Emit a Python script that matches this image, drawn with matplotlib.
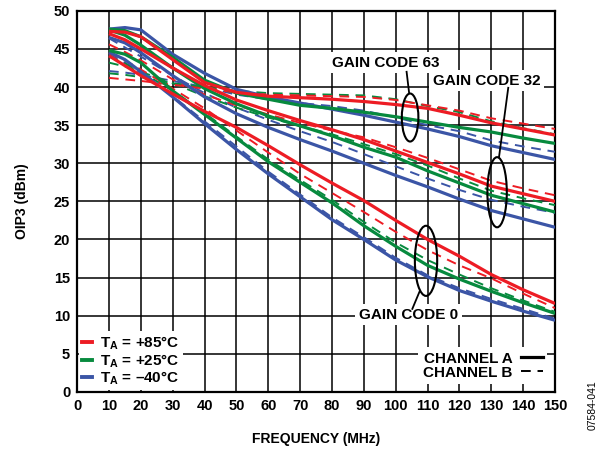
import numpy as np
import matplotlib
matplotlib.use('Agg')
import matplotlib.pyplot as plt
from matplotlib.patches import Ellipse
from matplotlib.lines import Line2D

plt.rcParams['font.family'] = ['Liberation Sans', 'DejaVu Sans']
plt.rcParams['font.weight'] = 'bold'
plt.rcParams['mathtext.fontset'] = 'custom'
plt.rcParams['mathtext.rm'] = 'Liberation Sans:bold'
plt.rcParams['mathtext.bf'] = 'Liberation Sans:bold'

# ----------------------------------------------------------------------
# --- data (MHz, dBm)

freq = [10, 15, 20, 30, 40, 50, 60, 70, 80, 90, 100, 110, 120, 130, 140, 150]

# gain code 63
g63_85_a = [47.3, 47.2, 46.6, 43.6, 40.6, 39.3, 38.8, 38.6, 38.4, 38.1, 37.7, 37.2, 36.3, 35.3, 34.5, 33.7]
g63_25_a = [47.6, 47.4, 46.6, 43.9, 40.9, 39.2, 38.4, 37.6, 37.2, 36.7, 36.1, 35.4, 34.7, 34.1, 33.3, 32.6]
g63_m40_a = [47.6, 47.8, 47.5, 44.3, 41.8, 39.7, 38.7, 37.9, 37.1, 36.3, 35.4, 34.5, 33.5, 32.3, 31.4, 30.5]
g63_85_b = [41.2, 41.0, 40.8, 40.3, 39.8, 39.3, 39.0, 38.9, 38.8, 38.7, 38.3, 37.6, 36.9, 35.9, 35.2, 34.5]
g63_25_b = [41.8, 41.6, 41.3, 40.5, 40.0, 39.5, 39.2, 39.1, 39.0, 38.9, 38.4, 37.5, 36.7, 35.5, 34.6, 33.8]
g63_m40_b = [42.1, 41.9, 41.6, 40.8, 40.0, 39.0, 38.4, 37.9, 37.5, 36.9, 36.0, 35.0, 34.2, 33.0, 32.2, 31.5]

# gain code 32
g32_85_a = [47.0, 46.2, 45.0, 42.5, 40.2, 38.3, 36.9, 35.6, 34.4, 33.1, 31.6, 30.1, 28.6, 27.0, 26.0, 25.0]
g32_25_a = [47.5, 46.8, 45.5, 42.5, 39.8, 37.8, 36.2, 34.9, 33.6, 32.1, 30.8, 29.0, 27.4, 25.8, 24.7, 23.6]
g32_m40_a = [46.5, 45.8, 44.5, 41.5, 38.7, 36.5, 34.7, 33.1, 31.6, 30.0, 28.4, 26.9, 25.3, 23.8, 22.7, 21.6]
g32_85_b = [45.6, 44.6, 43.5, 41.0, 39.0, 37.6, 36.4, 35.3, 34.3, 33.4, 32.1, 30.7, 29.2, 27.7, 26.7, 25.8]
g32_25_b = [43.2, 42.7, 42.0, 40.5, 38.8, 37.3, 36.0, 34.9, 33.8, 32.5, 31.2, 29.7, 28.0, 26.4, 25.4, 24.5]
g32_m40_b = [46.4, 45.2, 44.0, 41.5, 39.2, 37.3, 35.7, 34.2, 32.8, 31.2, 29.6, 28.0, 26.5, 25.2, 24.3, 23.5]

# gain code 0
g0_85_a = [44.1, 42.8, 41.5, 39.1, 36.8, 34.7, 32.3, 29.8, 27.4, 25.1, 22.5, 20.0, 17.8, 15.4, 13.4, 11.6]
g0_25_a = [44.8, 44.3, 43.2, 39.5, 36.4, 33.3, 30.2, 27.5, 24.8, 21.8, 19.1, 16.6, 14.8, 13.2, 11.7, 10.3]
g0_m40_a = [44.6, 43.6, 42.0, 38.7, 35.2, 31.8, 28.6, 25.6, 22.6, 20.0, 17.3, 15.1, 13.3, 11.9, 10.6, 9.4]
g0_85_b = [44.5, 43.5, 42.3, 39.8, 37.2, 34.3, 31.4, 28.6, 26.1, 23.6, 21.0, 18.6, 16.6, 14.9, 12.9, 11.0]
g0_25_b = [44.0, 43.1, 42.0, 39.5, 36.6, 33.5, 30.5, 27.8, 25.2, 22.3, 19.6, 17.3, 15.4, 13.6, 12.0, 10.5]
g0_m40_b = [44.3, 43.2, 41.8, 38.8, 35.5, 32.2, 28.9, 25.9, 22.9, 20.3, 17.6, 15.3, 13.6, 12.2, 10.9, 9.6]

red = '#ed1c24'
green = '#078a3e'
blue = '#3b55a6'

# (values, colour, channel)
curves = [
    (g63_m40_b, blue, 'B'), (g32_m40_b, blue, 'B'), (g0_m40_b, blue, 'B'),
    (g63_25_b, green, 'B'), (g32_25_b, green, 'B'), (g0_25_b, green, 'B'),
    (g63_85_b, red, 'B'), (g32_85_b, red, 'B'), (g0_85_b, red, 'B'),
    (g63_m40_a, blue, 'A'), (g32_m40_a, blue, 'A'), (g0_m40_a, blue, 'A'),
    (g63_25_a, green, 'A'), (g32_25_a, green, 'A'), (g0_25_a, green, 'A'),
    (g63_85_a, red, 'A'), (g32_85_a, red, 'A'), (g0_85_a, red, 'A'),
]

# ----------------------------------------------------------------------
# --- plot

fig = plt.figure(figsize=(6.12, 4.5), dpi=100)
ax = fig.add_axes([0.126, 0.129, 0.781, 0.847])

for y, c, ch in curves:
    if ch == 'A':
        ax.plot(freq, y, color=c, lw=2.3, solid_joinstyle='round', solid_capstyle='butt', zorder=3)
    else:
        ax.plot(freq, y, color=c, lw=1.4, dashes=(5, 3.5), zorder=3)

ax.set_xlim(0, 150)
ax.set_ylim(0, 50)
ax.set_xticks(np.arange(0, 151, 10))
ax.set_yticks(np.arange(0, 51, 5))
ax.grid(True, color='black', lw=1.1, zorder=1)
ax.set_axisbelow(True)
ax.tick_params(length=0, labelsize=10.5, pad=5)
for lab in ax.get_xticklabels() + ax.get_yticklabels():
    lab.set_fontweight('bold')
for sp in ax.spines.values():
    sp.set_linewidth(1.6)

ax.set_xlabel('FREQUENCY (MHz)', fontsize=10, fontweight='bold', labelpad=14)
ax.set_ylabel('OIP3 (dBm)', fontsize=10, fontweight='bold', labelpad=18)

# gain code annotations
box = dict(facecolor='white', edgecolor='none', pad=2.5)
ax.text(97, 43.2, 'GAIN CODE 63', fontsize=11, fontweight='bold', ha='center', va='center', bbox=box, zorder=4)
ax.text(128.5, 40.8, 'GAIN CODE 32', fontsize=11, fontweight='bold', ha='center', va='center', bbox=box, zorder=4)
ax.text(104, 10.1, 'GAIN CODE 0', fontsize=11, fontweight='bold', ha='center', va='center', bbox=box, zorder=4)

for (cx, cy, w, h) in [(104.5, 36.0, 5.2, 6.3), (131.8, 26.2, 6.1, 9.2), (109.5, 17.2, 7.0, 9.2)]:
    ax.add_patch(Ellipse((cx, cy), w, h, fill=False, edgecolor='black', lw=1.5, zorder=5))
ax.plot([104.2, 103.4], [39.2, 42.0], color='black', lw=1.3, zorder=5)
ax.plot([132.4, 135.3], [30.8, 39.9], color='black', lw=1.3, zorder=5)
ax.plot([107.5, 105.2], [13.2, 10.9], color='black', lw=1.3, zorder=5)

# temperature legend
temp_handles = [Line2D([], [], color=red, lw=2.8),
                Line2D([], [], color=green, lw=2.8),
                Line2D([], [], color=blue, lw=2.8)]
temp_labels = [r'T$_{\mathrm{A}}$ = +85°C', r'T$_{\mathrm{A}}$ = +25°C', r'T$_{\mathrm{A}}$ = –40°C']
leg1 = ax.legend(temp_handles, temp_labels, loc='lower left', fontsize=11, handlelength=0.7,
                 handletextpad=0.5, labelspacing=0.0, borderpad=0.2, borderaxespad=0.1,
                 frameon=True, fancybox=False, framealpha=1, edgecolor='none')
leg1.set_zorder(6)
for t in leg1.get_texts():
    t.set_fontweight('bold')
ax.add_artist(leg1)

# channel legend
ch_handles = [Line2D([], [], color='black', lw=2.3),
              Line2D([], [], color='black', lw=1.4, dashes=(5, 3.5))]
leg2 = ax.legend(ch_handles, ['CHANNEL A', 'CHANNEL B'], loc='lower right', fontsize=11,
                 handlelength=1.4, handletextpad=0.6, labelspacing=0.0, borderpad=0.3,
                 borderaxespad=0.5, markerfirst=False, frameon=True, fancybox=False,
                 framealpha=1, edgecolor='none')
leg2.set_zorder(6)
for t in leg2.get_texts():
    t.set_fontweight('bold')

fig.text(0.969, 0.10, '07584-041', rotation=90, fontsize=7.5, fontweight='normal',
         ha='center', va='center')

fig.savefig('out.png', dpi=100)
